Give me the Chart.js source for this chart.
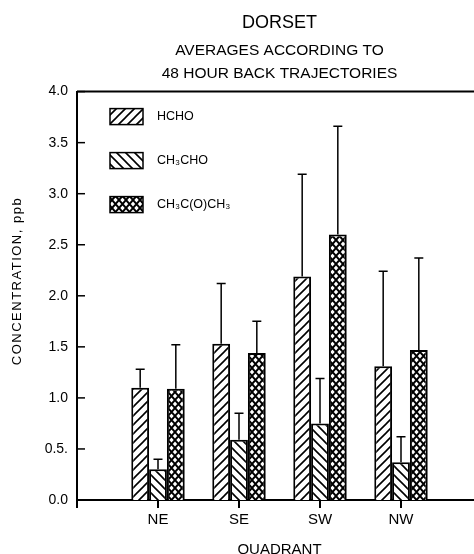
<!DOCTYPE html>
<html>
<head>
<meta charset="utf-8">
<script src="https://cdn.jsdelivr.net/npm/chart.js@4"></script>
<style>
  html, body { margin: 0; padding: 0; background: #fff; overflow: hidden; }
</style>
</head>
<body>
<canvas id="myChart" width="482" height="559"></canvas>
<script>
// quadrants and mean concentrations (ppb) with their upper error
const categories = ["NE", "SE", "SW", "NW"];
const seriesNames = ["HCHO", "CH₃CHO", "CH₃C(O)CH₃"];
const hcho = [1.1, 1.53, 2.19, 1.31];
const hchoErr = [0.18, 0.59, 1.0, 0.93];
const ch3cho = [0.3, 0.59, 0.75, 0.37];
const ch3choErr = [0.1, 0.26, 0.44, 0.25];
const acetone = [1.09, 1.44, 2.6, 1.47];
const acetoneErr = [0.43, 0.31, 1.06, 0.9];
const yTickLabels = ["0.0", "0.5.", "1.0", "1.5", "2.0", "2.5", "3.0", "3.5", "4.0"];
const yTitle = "CONCENTRATION, ppb";

Chart.defaults.font.family = "'Liberation Sans', Arial, sans-serif";
Chart.defaults.color = "#000";

// hatch fills
function makePattern(w, h, draw) {
  const c = document.createElement("canvas");
  c.width = w;
  c.height = h;
  const g = c.getContext("2d");
  g.fillStyle = "#fff";
  g.fillRect(0, 0, w, h);
  g.strokeStyle = "#000";
  draw(g, w, h);
  return document.getElementById("myChart").getContext("2d").createPattern(c, "repeat");
}

const forward = makePattern(9, 9, (g, w, h) => {
  g.lineWidth = 1.6;
  g.beginPath();
  g.moveTo(-1, h + 1);
  g.lineTo(w + 1, -1);
  g.moveTo(-1, 1);
  g.lineTo(1, -1);
  g.moveTo(w - 1, h + 1);
  g.lineTo(w + 1, h - 1);
  g.stroke();
});

const backward = makePattern(9, 9, (g, w, h) => {
  g.lineWidth = 1.6;
  g.beginPath();
  g.moveTo(-1, -1);
  g.lineTo(w + 1, h + 1);
  g.moveTo(w - 1, -1);
  g.lineTo(w + 1, 1);
  g.moveTo(-1, h - 1);
  g.lineTo(1, h + 1);
  g.stroke();
});

const cross = makePattern(7, 8, (g, w, h) => {
  g.lineWidth = 2;
  g.beginPath();
  g.moveTo(0, 0);
  g.lineTo(w, h);
  g.moveTo(0, h);
  g.lineTo(w, 0);
  g.stroke();
});

const fills = [forward, backward, cross];
const errors = [hchoErr, ch3choErr, acetoneErr];

// blank slot on each side so the quadrants sit one step in from the axis
const pad = (arr) => [null, ...arr, null];
const labels = pad(categories);

const extras = {
  id: "extras",
  afterDraw(chart) {
    const ctx = chart.ctx;
    const area = chart.chartArea;
    const y = chart.scales.y;
    ctx.save();
    ctx.strokeStyle = "#000";
    ctx.fillStyle = "#000";

    // upper error bars
    ctx.lineWidth = 1.5;
    chart.data.datasets.forEach((ds, i) => {
      const meta = chart.getDatasetMeta(i);
      meta.data.forEach((bar, j) => {
        const v = ds.data[j];
        if (v == null) return;
        const top = y.getPixelForValue(v + errors[i][j - 1]);
        ctx.beginPath();
        ctx.moveTo(bar.x, bar.y);
        ctx.lineTo(bar.x, top);
        ctx.moveTo(bar.x - 4.5, top);
        ctx.lineTo(bar.x + 4.5, top);
        ctx.stroke();
      });
    });

    // inward y ticks and top frame line
    y.ticks.forEach((t) => {
      const py = y.getPixelForValue(t.value);
      ctx.beginPath();
      ctx.moveTo(area.left, py);
      ctx.lineTo(area.left + 8, py);
      ctx.stroke();
    });
    ctx.lineWidth = 2;
    ctx.beginPath();
    ctx.moveTo(area.left, area.top);
    ctx.lineTo(area.right, area.top);
    ctx.stroke();

    // y axis title
    ctx.font = "13px 'Liberation Sans', Arial, sans-serif";
    ctx.letterSpacing = "1.5px";
    ctx.textAlign = "center";
    ctx.textBaseline = "middle";
    ctx.translate(17, 281);
    ctx.rotate(-Math.PI / 2);
    ctx.fillText(yTitle, 0, 0);
    ctx.setTransform(1, 0, 0, 1, 0, 0);
    ctx.letterSpacing = "0px";

    // legend
    ctx.font = "12.5px 'Liberation Sans', 'DejaVu Sans', sans-serif";
    ctx.textAlign = "left";
    chart.data.datasets.forEach((ds, i) => {
      const bx = area.left + 33;
      const by = area.top + 17 + i * 44;
      ctx.fillStyle = ds.backgroundColor;
      ctx.fillRect(bx, by, 33, 16);
      ctx.lineWidth = 1.5;
      ctx.strokeRect(bx, by, 33, 16);
      ctx.fillStyle = "#000";
      ctx.fillText(ds.label, bx + 47, by + 8);
    });
    ctx.restore();
  },
};

// outward x ticks under each quadrant, placed from the middle bar of each group
const xTicks = {
  id: "xTicks",
  afterRender(chart) {
    const ctx = chart.ctx;
    const area = chart.chartArea;
    const mid = chart.getDatasetMeta(1).data;
    ctx.save();
    ctx.fillStyle = "#000";
    ctx.fillRect(Math.round(area.left) - 1, area.bottom, 2, 8);
    mid.forEach((bar, j) => {
      if (chart.data.datasets[1].data[j] == null) return;
      ctx.fillRect(Math.round(bar.x) - 1, area.bottom, 2, 8);
    });
    ctx.restore();
  },
};

const ctx = document.getElementById("myChart").getContext("2d");
const chart = new Chart(ctx, {
  type: "bar",
  data: {
    labels: labels,
    datasets: [hcho, ch3cho, acetone].map((vals, i) => ({
      label: seriesNames[i],
      data: pad(vals),
      backgroundColor: fills[i],
      borderColor: "#000",
      borderWidth: 2,
      borderSkipped: "bottom",
    })),
  },
  options: {
    responsive: false,
    animation: false,
    categoryPercentage: 0.66,
    barPercentage: 1,
    layout: { padding: { left: 0, right: 0, top: 0, bottom: 0 } },
    plugins: {
      legend: { display: false },
      tooltip: { enabled: false },
      title: {
        display: true,
        text: "DORSET",
        fullSize: false,
        font: { size: 18, weight: "normal" },
        padding: { top: 12, bottom: 6 },
      },
      subtitle: {
        display: true,
        text: ["AVERAGES ACCORDING TO", "48 HOUR BACK TRAJECTORIES"],
        fullSize: false,
        font: { size: 15.5, lineHeight: "23px" },
        padding: { top: 0, bottom: 6 },
      },
    },
    scales: {
      x: {
        offset: false,
        grid: { display: false, drawTicks: false },
        border: { display: true, color: "#000", width: 2 },
        ticks: {
          autoSkip: false,
          maxRotation: 0,
          padding: 11,
          font: { size: 15 },
        },
        title: {
          display: true,
          text: "QUADRANT",
          font: { size: 15 },
          padding: { top: 1, bottom: 0 },
        },
      },
      y: {
        min: 0,
        max: 4,
        afterFit: (scale) => {
          scale.width = 77;
        },
        grid: { display: false, drawTicks: false },
        border: { display: true, color: "#000", width: 2 },
        ticks: {
          stepSize: 0.5,
          padding: 9,
          font: { size: 14 },
          callback: (v, i) => yTickLabels[i],
        },
      },
    },
  },
  plugins: [extras, xTicks],
});
</script>
</body>
</html>
